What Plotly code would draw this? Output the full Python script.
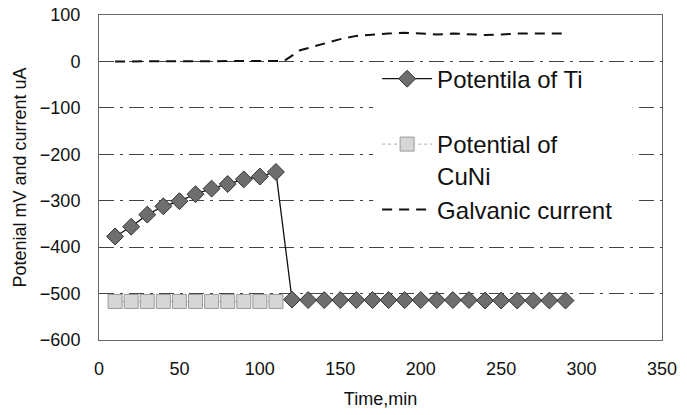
import plotly.graph_objects as go

time_ti = [10, 20, 30, 40, 50, 60, 70, 80, 90, 100, 110, 120, 130, 140, 150, 160, 170, 180, 190, 200,
           210, 220, 230, 240, 250, 260, 270, 280, 290]
pot_ti = [-377, -356, -330, -312, -301, -286, -274, -264, -254, -248, -238, -513, -514, -514, -514, -514,
          -514, -514, -514, -514, -514, -514, -514, -515, -515, -515, -515, -515, -515]
time_cuni = [10, 20, 30, 40, 50, 60, 70, 80, 90, 100, 110]
pot_cuni = [-517, -517, -517, -517, -517, -517, -517, -517, -517, -517, -517]
time_cur = [10, 20, 30, 40, 50, 60, 70, 80, 90, 100, 110, 115, 125, 137, 150, 160, 170, 180, 190, 200,
            210, 220, 230, 240, 250, 260, 270, 280, 290]
current = [0, 0, 0, 0, 0, 0, 0, 0, 0, 0, 0, 1, 24, 36, 48, 55, 58, 60, 62, 60,
           58, 60, 58, 57, 58, 60, 60, 60, 60]

y_ticks = [100, 0, -100, -200, -300, -400, -500, -600]
y_tick_text = ["100", "0", "−100", "−200", "−300", "−400", "−500", "−600"]
x_ticks = [0, 50, 100, 150, 200, 250, 300, 350]

FONT = "Liberation Sans, Arial, sans-serif"

fig = go.Figure()
fig.add_trace(go.Scatter(
    x=time_cuni, y=pot_cuni, mode="lines+markers", name="Potential of<br>CuNi",
    line=dict(color="#aaaaaa", width=1, dash="dot"),
    marker=dict(symbol="square", size=14, color="#d6d6d6", line=dict(color="#9a9a9a", width=1)),
    legendgroup="b", legendrank=2,
))
fig.add_trace(go.Scatter(
    x=time_ti, y=pot_ti, mode="lines+markers", name="Potentila of Ti<br>\u00a0",
    line=dict(color="#111111", width=1.3),
    marker=dict(symbol="diamond", size=13, color="#6e6e6e", line=dict(color="#333333", width=1)),
    legendgroup="a", legendrank=1,
))
fig.add_trace(go.Scatter(
    x=time_cur, y=current, mode="lines", name="Galvanic current",
    line=dict(color="#111111", width=2, dash="10px,7px"),
    legendgroup="c", legendrank=3,
))

# white panel behind the legend text (area holds no data, only gridlines)
fig.add_shape(type="rect", xref="paper", yref="paper", x0=0.487, x1=0.948, y0=0.338, y1=0.843,
              fillcolor="white", line=dict(width=0), layer="above")

fig.update_layout(
    width=687, height=415,
    margin=dict(l=99, r=25, t=15, b=75),
    paper_bgcolor="white", plot_bgcolor="white",
    font=dict(family=FONT, color="#111111"),
    showlegend=True,
    legend=dict(
        x=0.494, y=0.872, xanchor="left", yanchor="top",
        bgcolor="rgba(0,0,0,0)", borderwidth=0,
        font=dict(size=24, family=FONT, color="#111111"),
        tracegroupgap=0, itemwidth=50, valign="top",
    ),
    xaxis=dict(
        range=[0, 350], tickvals=x_ticks, ticktext=[str(v) for v in x_ticks],
        showgrid=False, zeroline=False, ticks="", automargin=False,
        showline=True, linecolor="#666666", linewidth=1, mirror=True,
        tickfont=dict(size=18), ticklabelstandoff=12,
        title=dict(text="Time,min", font=dict(size=18), standoff=14),
    ),
    yaxis=dict(
        range=[-600, 100], tickvals=y_ticks, ticktext=y_tick_text,
        showgrid=True, gridcolor="#444444", gridwidth=1, griddash="longdashdot",
        zeroline=False, ticks="", automargin=False,
        showline=True, linecolor="#666666", linewidth=1, mirror=True,
        tickfont=dict(size=18), ticklabelstandoff=14,
        title=dict(text="Potenial mV and current uA", font=dict(size=18), standoff=8),
    ),
)

fig.write_html("out.html")
